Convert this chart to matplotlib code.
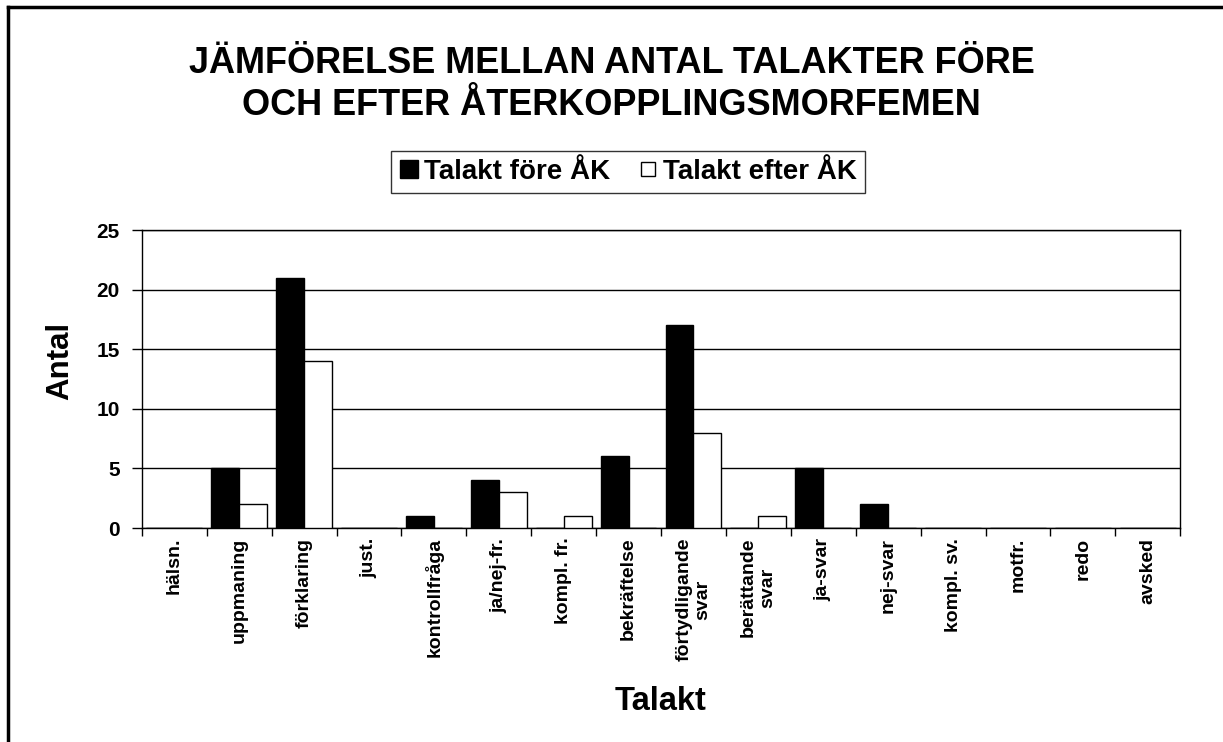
import numpy as np
import matplotlib.pyplot as plt
from matplotlib.lines import Line2D

plt.rcParams['font.family'] = ['Liberation Sans', 'DejaVu Sans']
plt.rcParams['font.weight'] = 'bold'

# Data
categories = ['hälsn.', 'uppmaning', 'förklaring', 'just.', 'kontrollfråga',
              'ja/nej-fr.', 'kompl. fr.', 'bekräftelse', 'förtydligande\nsvar',
              'berättande\nsvar', 'ja-svar', 'nej-svar', 'kompl. sv.', 'motfr.',
              'redo', 'avsked']
fore = [0, 5, 21, 0, 1, 4, 0, 6, 17, 0, 5, 2, 0, 0, 0, 0]
efter = [0, 2, 14, 0, 0, 3, 1, 0, 8, 1, 0, 0, 0, 0, 0, 0]

fig = plt.figure(figsize=(12.23, 7.42), dpi=100)
ax = fig.add_axes([0.116, 0.2884, 0.849, 0.4016])

x = np.arange(len(categories))
w = 0.43
ax.bar(x - w / 2, fore, w, color='black', edgecolor='black', linewidth=1, zorder=3)
ax.bar(x + w / 2, efter, w, color='white', edgecolor='black', linewidth=1, zorder=3)

ax.set_xlim(-0.5, len(categories) - 0.5)
ax.set_ylim(0, 25)
ax.set_yticks(range(0, 26, 5))
ax.yaxis.grid(True, color='black', linewidth=1, zorder=0)
ax.tick_params(axis='y', labelsize=15, length=7, width=1, pad=9)

ax.set_xticks(x)
ax.set_xticklabels(categories, rotation=90, fontsize=14, fontweight='bold',
                   ha='center', va='top', multialignment='center')
ax.tick_params(axis='x', which='major', length=0, pad=7)
ax.set_xticks(np.arange(-0.5, len(categories), 1), minor=True)
ax.tick_params(axis='x', which='minor', length=6, width=1)

for s in ax.spines.values():
    s.set_color('black')
    s.set_linewidth(1)

ax.set_ylabel('Antal', fontsize=22.5, fontweight='bold')
ax.yaxis.set_label_coords(-0.064, 0.56)
ax.set_xlabel('Talakt', fontsize=23.5, fontweight='bold')
ax.xaxis.set_label_coords(0.5, -0.53)

fig.text(0.5, 0.886, 'JÄMFÖRELSE MELLAN ANTAL TALAKTER FÖRE\nOCH EFTER ÅTERKOPPLINGSMORFEMEN',
         ha='center', va='center', fontsize=26, fontweight='bold', linespacing=1.25)

handles = [Line2D([], [], marker='s', linestyle='none', markersize=13,
                  markerfacecolor='black', markeredgecolor='black'),
           Line2D([], [], marker='s', linestyle='none', markersize=10,
                  markerfacecolor='white', markeredgecolor='black')]
leg = fig.legend(handles, ['Talakt före ÅK', 'Talakt efter ÅK'], loc='center',
                 bbox_to_anchor=(0.5135, 0.768), ncol=2, frameon=True, fancybox=False,
                 prop={'size': 20, 'weight': 'bold'}, handlelength=0.7,
                 handletextpad=0.2, columnspacing=1.0, borderpad=0.3)
leg.get_frame().set_edgecolor('black')
leg.get_frame().set_linewidth(1)

# partial frame around the chart area (left and top edges)
fig.add_artist(Line2D([8 / 1223, 8 / 1223], [0, 1 - 7 / 742], color='black', linewidth=2.5))
fig.add_artist(Line2D([8 / 1223, 1], [1 - 7 / 742, 1 - 7 / 742], color='black', linewidth=2.5))

fig.savefig('out.png', dpi=100)
